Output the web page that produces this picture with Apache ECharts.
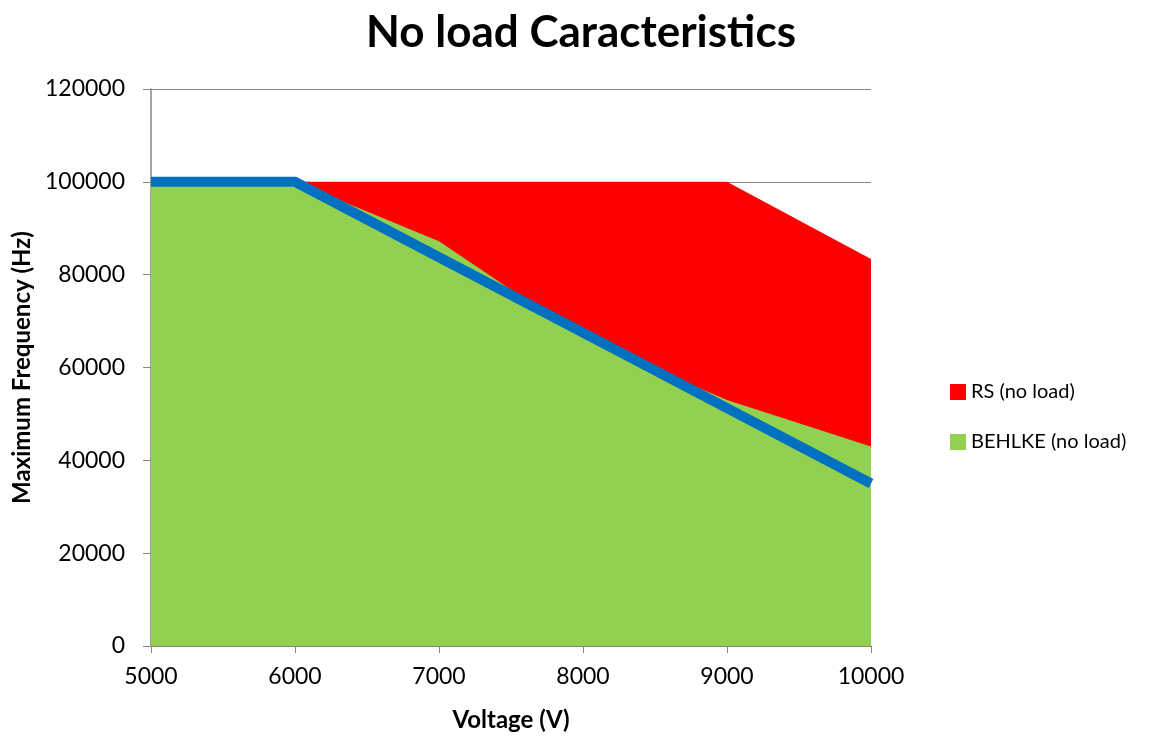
<!DOCTYPE html>
<html>
<head>
<meta charset="utf-8">
<script src="https://cdn.jsdelivr.net/npm/echarts@6/dist/echarts.min.js"></script>
<style>html,body{margin:0;padding:0;background:#fff}#c{width:1162px;height:738px}</style>
</head>
<body>
<div id="c"></div>
<script>
var voltages = [5000, 6000, 7000, 8000, 9000, 10000];
var rsValues = [100000, 100000, 100000, 100000, 100000, 83400];
var behlkeValues = [100000, 100000, 87200, 66300, 53000, 43000];
var trendValues = [100000, 100000, 83750, 67500, 51250, 35000];
var yTicks = [0, 20000, 40000, 60000, 80000, 100000, 120000];

function pairs(xs, ys) { return xs.map(function (x, i) { return [x, ys[i]]; }); }
function plain(v) { return String(v); }

var FONT = 'Lato, "Open Sans", sans-serif';
var GRAY = '#868686';
var chart = echarts.init(document.getElementById('c'));
chart.setOption({
  backgroundColor: '#fff',
  animation: false,
  title: {
    text: 'No load Caracteristics',
    left: 'center', top: 6,
    textStyle: { fontFamily: FONT, fontSize: 44, fontWeight: 'bold', color: '#000' }
  },
  legend: {
    data: ['RS (no load)', 'BEHLKE (no load)'],
    orient: 'vertical', left: 945, top: 377,
    itemWidth: 16, itemHeight: 16, itemGap: 30,
    icon: 'rect',
    textStyle: { fontFamily: FONT, fontSize: 20, color: '#000' }
  },
  grid: { left: 151, right: 291, top: 89, bottom: 92, containLabel: false, outerBoundsMode: 'none' },
  xAxis: {
    type: 'value', min: voltages[0], max: voltages[voltages.length - 1], interval: 1000,
    name: 'Voltage (V)', nameLocation: 'middle', nameGap: 62,
    nameTextStyle: { fontFamily: FONT, fontSize: 24, fontWeight: 'bold', color: '#000' },
    axisLine: { lineStyle: { color: GRAY, width: 1.5 } },
    axisTick: { show: true, length: 7, lineStyle: { color: GRAY } },
    axisLabel: { fontFamily: FONT, fontSize: 23, color: '#000', margin: 19, formatter: plain },
    splitLine: { show: false }
  },
  yAxis: {
    type: 'value', min: yTicks[0], max: yTicks[yTicks.length - 1], interval: 20000,
    name: 'Maximum Frequency (Hz)', nameLocation: 'middle', nameGap: 115,
    nameTextStyle: { fontFamily: FONT, fontSize: 24, fontWeight: 'bold', color: '#000' },
    axisLine: { show: true, lineStyle: { color: GRAY, width: 1.5 } },
    axisTick: { show: true, length: 8, lineStyle: { color: GRAY } },
    axisLabel: { fontFamily: FONT, fontSize: 23, color: '#000', margin: 26, formatter: plain },
    splitLine: { show: true, lineStyle: { color: GRAY, width: 1.2 } }
  },
  series: [
    {
      name: 'RS (no load)', type: 'line', data: pairs(voltages, rsValues),
      showSymbol: false, symbol: 'none', itemStyle: { color: '#FF0000' },
      lineStyle: { width: 0 }, areaStyle: { color: '#FF0000', opacity: 1 }, z: 2
    },
    {
      name: 'BEHLKE (no load)', type: 'line', data: pairs(voltages, behlkeValues),
      showSymbol: false, symbol: 'none', itemStyle: { color: '#92D050' },
      lineStyle: { width: 0 }, areaStyle: { color: '#92D050', opacity: 1 }, z: 3
    },
    {
      name: 'Trend', type: 'line', data: pairs(voltages, trendValues),
      showSymbol: false, symbol: 'none', itemStyle: { color: '#0070C0' },
      lineStyle: { color: '#0070C0', width: 10, cap: 'butt', join: 'miter' }, z: 4
    }
  ]
});
</script>
</body>
</html>
